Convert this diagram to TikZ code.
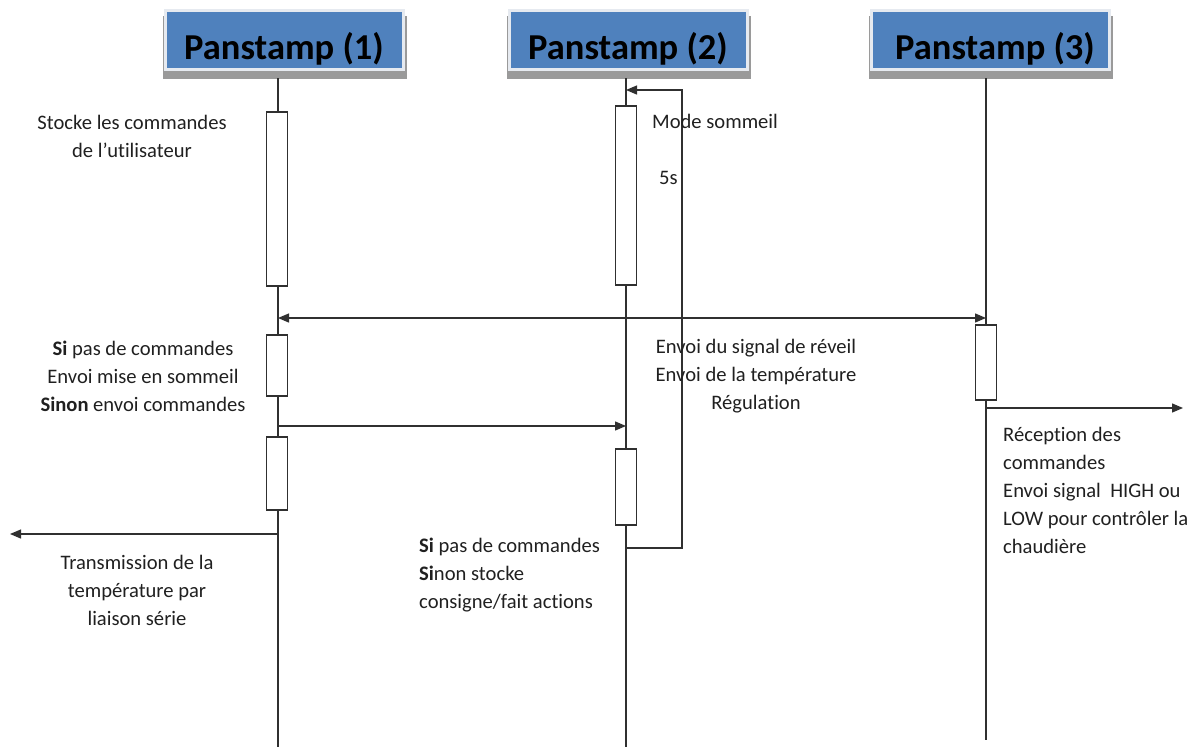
\documentclass[tikz,border=0pt]{standalone}
\usepackage{fontspec}
\setmainfont[Ligatures=NoCommon]{Carlito}
\usetikzlibrary{arrows.meta}
\definecolor{hdrblue}{HTML}{4F81BD}
\definecolor{hdrrim}{HTML}{E6EAF0}
\definecolor{hdrshadow}{HTML}{9A9A9A}
\definecolor{lineclr}{HTML}{303030}
\definecolor{txtclr}{HTML}{202020}
\tikzset{
  header/.style={fill=hdrblue, draw=hdrrim, line width=3pt, minimum width=238pt, minimum height=59pt, inner sep=0pt},
  hdrtext/.style={font=\fontsize{36.5}{40}\selectfont\bfseries, text=black, inner sep=0pt, anchor=base},
  lifeline/.style={draw=lineclr, line width=1.3pt},
  actbar/.style={draw=lineclr, fill=white, line width=1.3pt, minimum width=21pt, inner sep=0pt},
  msg/.style={draw=lineclr, line width=1.3pt, -{Triangle[length=11pt,width=9pt]}},
  msgboth/.style={draw=lineclr, line width=1.3pt, {Triangle[length=11pt,width=9pt]}-{Triangle[length=11pt,width=9pt]}},
  note/.style={font=\fontsize{20.6}{28}\selectfont, text=txtclr, inner sep=0pt},
}
\begin{document}
\begin{tikzpicture}[x=1pt,y=-1pt]
\useasboundingbox (0,0) rectangle (1195,747);
% header shadows
\foreach \cx in {284,628,990}{
  \fill[hdrshadow] (\cx-121,16) rectangle (\cx+123,79);
}
\node[header] (h1) at (284,39.5) {};
\node[header] (h2) at (628,39.5) {};
\node[header] (h3) at (990,39.5) {};
\node[hdrtext] (t1) at (284,59) {Panstamp (1)};
\node[hdrtext] (t2) at (628,59) {Panstamp (2)};
\node[hdrtext] (t3) at (995,59) {Panstamp (3)};

% lifeline coordinates
\coordinate (l1top) at (278,78);
\coordinate (l1bot) at (278,747);
\coordinate (l2top) at (626,78);
\coordinate (l2bot) at (626,747);
\coordinate (l3top) at (986,78);
\coordinate (l3bot) at (986,740);
\draw[lifeline] (l1top) -- (l1bot);
\draw[lifeline] (l2top) -- (l2bot);
\draw[lifeline] (l3top) -- (l3bot);

% activation bars
\node[actbar, minimum height=174pt] (a11) at (277,199) {};
\node[actbar, minimum height=61pt] (a12) at (277,365.5) {};
\node[actbar, minimum height=73pt] (a13) at (277,473.5) {};
\node[actbar, minimum height=179pt] (a21) at (626,195.5) {};
\node[actbar, minimum height=76pt] (a22) at (626,487) {};
\node[actbar, minimum height=75pt] (a31) at (986,362.5) {};

% message coordinates
\coordinate (loopA) at (626,548);
\coordinate (loopB) at (682,548);
\coordinate (loopC) at (682,90);
\coordinate (loopD) at (626,90);
\coordinate (wk1) at (278,318);
\coordinate (wk3) at (986,318);
\coordinate (cmd1) at (278,426);
\coordinate (cmd2) at (626,426);
\coordinate (ser1) at (278,534);
\coordinate (serEnd) at (10,534);
\coordinate (out3) at (986,408);
\coordinate (outEnd) at (1183,408);

\draw[msg] (loopA) -- (loopB) -- (loopC) -- (loopD);
\draw[msgboth] (wk1) -- (wk3);
\draw[msg] (cmd1) -- (cmd2);
\draw[msg] (ser1) -- (serEnd);
\draw[msg] (out3) -- (outEnd);

% texts
\node[note, align=center] (n1) at (132,136) {Stocke les commandes\\de l’utilisateur};
\node[note, anchor=west] (n2) at (652,121) {Mode sommeil};
\node[note, anchor=west] (n3) at (659,178) {5s};
\node[note, align=center] (n4) at (143,376) {\textbf{Si} pas de commandes\\Envoi mise en sommeil\\\textbf{Sinon} envoi commandes};
\node[note, align=center] (n5) at (756,376) {Envoi du signal de réveil\\Envoi de la température\\Régulation};
\node[note, align=left, anchor=west] (n6) at (1003,490) {Réception des\\commandes\\Envoi signal\ \ HIGH ou\\LOW pour contrôler la\\chaudière};
\node[note, align=center] (n7) at (137,590) {Transmission de la\\température par\\liaison série};
\node[note, align=left, anchor=west] (n8) at (419,575) {\textbf{Si} pas de commandes\\\textbf{Si}non stocke\\consigne/fait actions};
\end{tikzpicture}
\end{document}
